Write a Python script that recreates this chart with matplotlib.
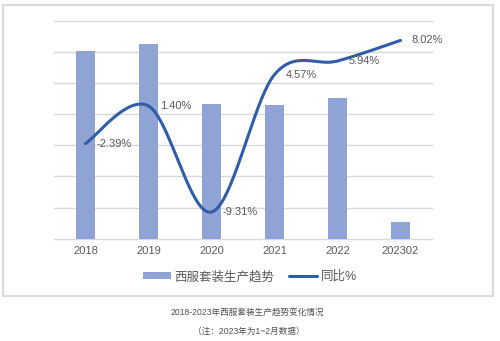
import numpy as np
import matplotlib.pyplot as plt
from matplotlib.patches import Rectangle

plt.rcParams['font.family'] = ['Liberation Sans', 'Noto Sans CJK SC']

categories = ['2018', '2019', '2020', '2021', '2022', '202302']
production = [6030, 6270, 4340, 4300, 4520, 540]
yoy = [-2.39, 1.40, -9.31, 4.57, 5.94, 8.02]
yoy_labels = ['-2.39%', '1.40%', '-9.31%', '4.57%', '5.94%', '8.02%']

bar_color = '#8FA3D5'
line_color = '#2F5DA8'
text_color = '#595959'
grid_color = '#D9D9D9'


def smooth(xs, ys, n=40):
    # bezier smoothing similar to office charts
    xs = np.asarray(xs, float)
    ys = np.asarray(ys, float)
    pts = np.column_stack([xs, ys])
    m = len(pts)
    tang = np.zeros_like(pts)
    for i in range(m):
        a = pts[max(i - 1, 0)]
        b = pts[min(i + 1, m - 1)]
        tang[i] = (b - a) / 2
    out = []
    t = np.linspace(0, 1, n)[:, None]
    for i in range(m - 1):
        p0 = pts[i]
        p3 = pts[i + 1]
        p1 = p0 + tang[i] / 3
        p2 = p3 - tang[i + 1] / 3
        seg = ((1 - t) ** 3) * p0 + 3 * ((1 - t) ** 2) * t * p1 + 3 * (1 - t) * t ** 2 * p2 + t ** 3 * p3
        out.append(seg if i == 0 else seg[1:])
    out = np.vstack(out)
    return out[:, 0], out[:, 1]


fig = plt.figure(figsize=(5, 3.41), dpi=100)
rect = [0.108, 0.300, 0.756, 0.639]
ax = fig.add_axes(rect)
x = np.arange(len(categories))

bars = ax.bar(x, production, width=0.31, color=bar_color, zorder=2)
ax.set_ylim(0, 7000)
ax.set_xlim(-0.5, len(categories) - 0.5)
for s in ['top', 'right', 'left', 'bottom']:
    ax.spines[s].set_visible(False)
ax.set_yticks([])
# horizontal grid lines
for g in np.arange(0, 7001, 1000):
    ax.axhline(g, color=grid_color, lw=1, zorder=0, clip_on=False)
ax.tick_params(axis='x', length=0, pad=5, labelsize=8, colors=text_color)
ax.set_xticks(x)
ax.set_xticklabels(categories)

# line on its own axes (secondary scale)
ax2 = fig.add_axes(rect, facecolor='none')
ax2.set_xlim(-0.5, len(categories) - 0.5)
ax2.set_ylim(-12, 10)
ax2.axis('off')
sx, sy = smooth(x, yoy)
line, = ax2.plot(sx, sy, color=line_color, lw=2.2, solid_capstyle='round')
for xi, yi, lab in zip(x, yoy, yoy_labels):
    ax2.annotate(lab, (xi, yi), xytext=(8, 0), textcoords='offset points',
                 va='center', ha='left', fontsize=8, color=text_color)

fig.legend([bars, line], ['西服套装生产趋势', '同比%'], loc='center', bbox_to_anchor=(0.5, 0.188),
           ncol=2, frameon=False, fontsize=9, labelcolor=text_color, handlelength=2.2,
           handleheight=0.5, handletextpad=0.3, columnspacing=1.2)

fig.patches.append(Rectangle((0.006, 0.133), 0.98, 0.852, transform=fig.transFigure,
                             fill=False, edgecolor=grid_color, lw=1.5))

fig.text(0.495, 1 - 312.7 / 341, '2018-2023年西服套装生产趋势变化情况', ha='center', va='center',
         fontsize=6.2, color='#505050')
fig.text(0.497, 1 - 331 / 341, '（注：2023年为1~2月数据）', ha='center', va='center',
         fontsize=6.2, color='#505050')

fig.savefig('out.png', dpi=100)
